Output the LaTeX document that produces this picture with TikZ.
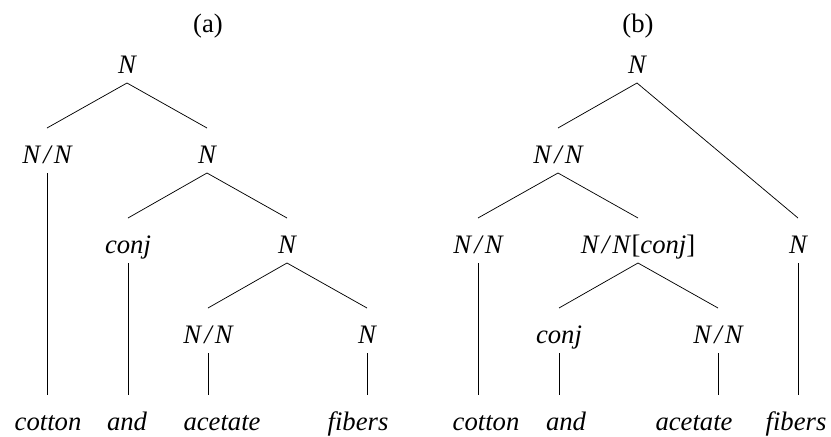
\documentclass[tikz,border=0pt]{standalone}
\usepackage{fontspec}
\setmainfont{Liberation Serif}
\usetikzlibrary{calc}
\newcommand\NsN{N\kern0.12em/\kern0.12em N}
\newcommand\brEdge[2]{\draw[edgeln] ($(#1.base)+(0,10)$) -- ($(#2.base)+(0,-35)$);}
\newcommand\brDown[2]{\draw[edgeln] ($(#1.base)+(0,10)$) -- ($(#1.base |- #2.base)+(0,-35)$);}
\begin{document}
\begin{tikzpicture}[x=0.75pt,y=-0.75pt,
  lab/.style={anchor=base,inner sep=0pt,font=\fontsize{20}{24}\selectfont\itshape},
  captxt/.style={anchor=base,inner sep=0pt,font=\fontsize{20}{24}\selectfont},
  edgeln/.style={line width=0.55pt}]
\useasboundingbox (0,0) rectangle (831,436);
% tree (a)
\node[captxt] (capA) at (208,32) {(a)};
\node[lab] (aN)   at (127,73)  {N};
\node[lab] (aNN)  at (47,163)  {\NsN};
\node[lab] (aN2)  at (207,163) {N};
\node[lab] (aconj) at (128,253) {conj};
\node[lab] (aN3)  at (287,253) {N};
\node[lab] (aNN2) at (208,343) {\NsN};
\node[lab] (aN4)  at (367,343) {N};
\node[lab] (acot) at (48,430)  {cotton};
\node[lab] (aand) at (127,430) {and};
\node[lab] (aace) at (222,430) {acetate};
\node[lab] (afib) at (358,430) {fibers};
\brEdge{aN}{aNN}
\brEdge{aN}{aN2}
\brEdge{aN2}{aconj}
\brEdge{aN2}{aN3}
\brEdge{aN3}{aNN2}
\brEdge{aN3}{aN4}
\brDown{aNN}{acot}
\brDown{aconj}{aand}
\brDown{aNN2}{aace}
\brDown{aN4}{afib}
% tree (b)
\node[captxt] (capB) at (638,32) {(b)};
\node[lab] (bN)   at (637,73)  {N};
\node[lab] (bNN)  at (558,163) {\NsN};
\node[lab] (bNNl) at (478,253) {\NsN};
\node[lab] (bNNc) at (638,253) {\NsN\kern0.05em{\upshape[}conj{\upshape]}};
\node[lab] (bNr)  at (798,253) {N};
\node[lab] (bconj) at (559,343) {conj};
\node[lab] (bNN2) at (718,343) {\NsN};
\node[lab] (bcot) at (486,430) {cotton};
\node[lab] (band) at (566,430) {and};
\node[lab] (bace) at (694,430) {acetate};
\node[lab] (bfib) at (796,430) {fibers};
\brEdge{bN}{bNN}
\brEdge{bN}{bNr}
\brEdge{bNN}{bNNl}
\brEdge{bNN}{bNNc}
\brEdge{bNNc}{bconj}
\brEdge{bNNc}{bNN2}
\brDown{bNNl}{bcot}
\brDown{bconj}{band}
\brDown{bNN2}{bace}
\brDown{bNr}{bfib}
\end{tikzpicture}
\end{document}
